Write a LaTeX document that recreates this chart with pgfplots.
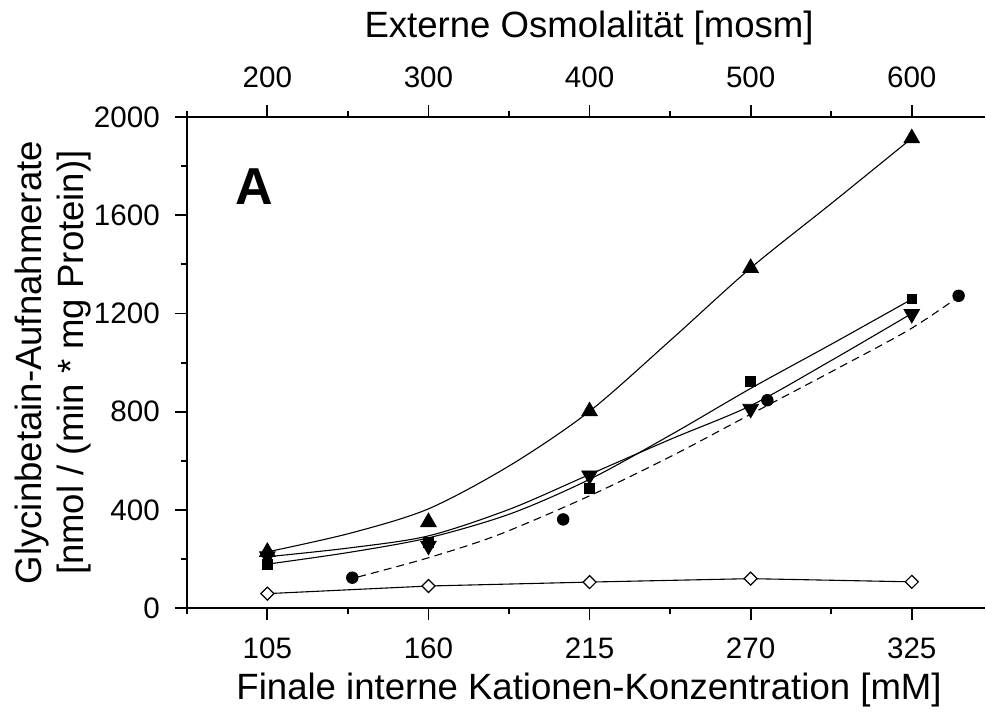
\documentclass[border=0pt]{standalone}
\usepackage{fontspec}
\setmainfont{Liberation Sans}
\usepackage{pgfplots}
\pgfplotsset{compat=1.18}
\begin{document}
\begin{tikzpicture}
\pgfplotsset{
  common/.style={
    scale only axis, width=399.5pt, height=246pt,
    ymin=0, ymax=2000,
    /pgf/number format/assume math mode=true,
    /pgf/number format/1000 sep={},
    scaled x ticks=false, scaled y ticks=false,
    tick align=outside,
    major tick length=6pt, minor tick length=3pt,
    every tick/.style={black, line width=0.9pt},
    axis line style={line width=1pt},
    tick label style={font=\fontsize{14.8}{17}\selectfont},
    label style={font=\fontsize{18.3}{21}\selectfont},
  },
  fit/.style={no marks, smooth, black, line width=0.55pt},
  pts/.style={only marks, black},
}
% lower axis: internal cation concentration
\begin{axis}[common, name=main,
  xmin=77.5, xmax=350,
  axis x line*=bottom, axis y line*=left,
  xtick={105,160,215,270,325},
  minor xtick={77.5,132.5,187.5,242.5,297.5},
  ytick={0,400,...,2000},
  minor ytick={200,600,1000,1400,1800},
  xticklabel style={yshift=-5pt},
  yticklabel style={xshift=-4pt},
  xlabel={Finale interne Kationen-Konzentration [mM]},
  xlabel style={at={(axis description cs:0.504,-0.167)}, anchor=center},
  ylabel={Glycinbetain-Aufnahmerate\\{[}nmol / (min * mg Protein){]}},
  ylabel style={align=center, at={(axis description cs:-0.167,0.5)}, anchor=center},
]
% fitted curves
\addplot[fit] coordinates {(105,230) (133,305) (160,405) (188,583) (215,802) (243,1095) (270,1385) (298,1652) (325,1913)};
\addplot[fit] coordinates {(105,180) (133,228) (160,287) (188,385) (215,525) (243,708) (270,895) (298,1078) (325,1258)};
\addplot[fit] coordinates {(105,210) (133,246) (160,295) (188,405) (215,545) (243,690) (270,825) (298,1012) (325,1200)};
\addplot[fit, dash pattern=on 4pt off 2.6pt] coordinates {(136,128) (160,206) (184,300) (215,458) (243,620) (270,790) (298,966) (324,1133) (341,1268)};
\addplot[black, line width=0.55pt, no marks] coordinates {(105,60) (160,91) (215,107) (270,121) (325,108)};
% measured values
\addplot[pts, mark=triangle*, mark size=4.5pt] coordinates {(105,230) (160,351) (215,802) (270,1385) (325,1913)};
\addplot[pts, mark=square*, mark size=2.4pt] coordinates {(105,179) (160,268) (215,488) (270,924) (325,1260)};
\addplot[pts, mark=triangle*, mark size=4.5pt, mark options={rotate=180}] coordinates {(105,212) (160,255) (215,541) (270,812) (325,1198)};
\addplot[pts, mark=*, mark size=2.9pt] coordinates {(134,125) (206,362) (275.7,847) (341,1272)};
\addplot[only marks, mark=square*, mark size=2.3pt, mark options={rotate=45, fill=white, draw=black, line width=0.6pt}] coordinates {(105,60) (160,91) (215,107) (270,121) (325,108)};
\node[font=\fontsize{26}{30}\selectfont\bfseries] at (axis description cs:0.085,0.858) {A};
\end{axis}
% upper axis: external osmolality
\begin{axis}[common,
  xmin=150, xmax=645.45,
  axis x line*=top, axis y line=none,
  xtick={200,300,...,600},
  minor xtick={150,250,350,450,550},
  xticklabel style={yshift=5pt},
  xlabel={Externe Osmolalität [mosm]},
  xlabel style={at={(axis description cs:0.504,1.181)}, anchor=center},
]
\end{axis}
\path (main.south west) ++(-93.5pt,-52pt) rectangle ++(493pt,356.5pt);
\end{tikzpicture}
\end{document}
